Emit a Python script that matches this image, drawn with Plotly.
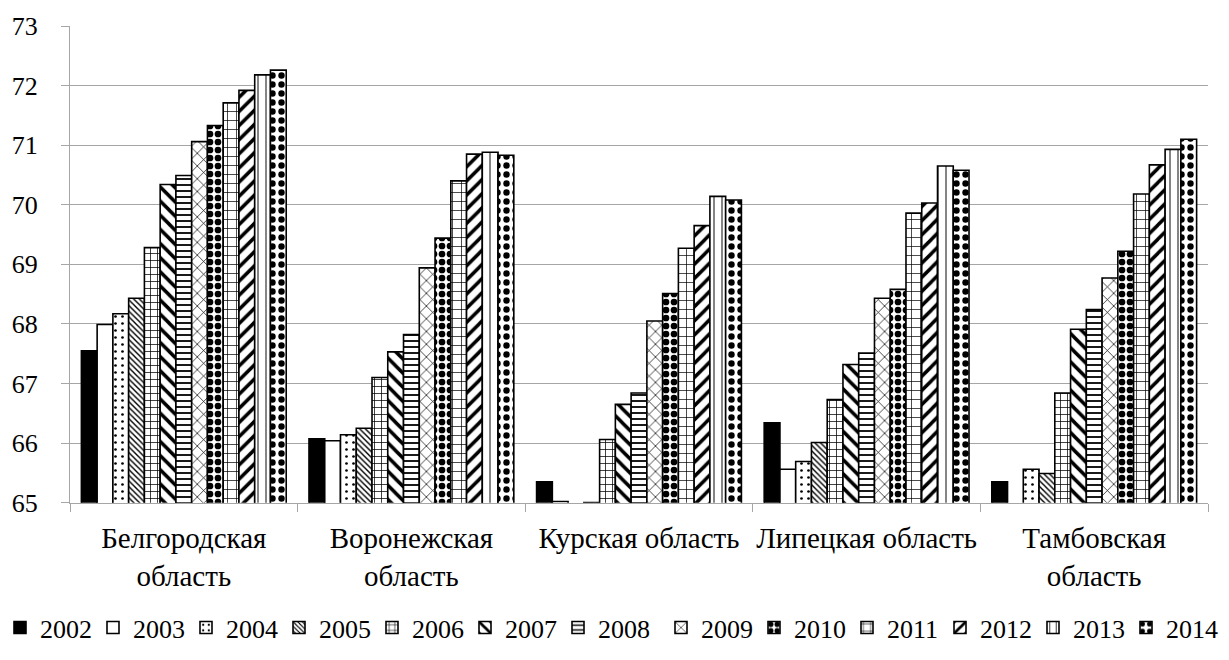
import plotly.graph_objects as go

regions = ["Белгородская<br>область", "Воронежская<br>область", "Курская область",
           "Липецкая область", "Тамбовская<br>область"]
years = ["2002", "2003", "2004", "2005", "2006", "2007", "2008", "2009", "2010",
         "2011", "2012", "2013", "2014"]

belgorod = [67.55, 67.99, 68.17, 68.43, 69.28, 70.34, 70.49, 71.06, 71.33, 71.71, 71.92, 72.18, 72.26]
voronezh = [66.07, 66.04, 66.14, 66.25, 67.10, 67.53, 67.82, 68.94, 69.44, 70.40, 70.85, 70.88, 70.83]
kursk = [65.35, 65.02, 64.98, 65.00, 66.06, 66.65, 66.84, 68.05, 68.51, 69.27, 69.65, 70.14, 70.08]
lipetsk = [66.34, 65.56, 65.69, 66.01, 66.73, 67.32, 67.51, 68.43, 68.58, 69.86, 70.03, 70.65, 70.58]
tambov = [65.35, 64.95, 65.56, 65.49, 66.84, 67.91, 68.24, 68.77, 69.22, 70.18, 70.67, 70.93, 71.10]

series_by_region = [belgorod, voronezh, kursk, lipetsk, tambov]

# pattern style per year: (marker colour, shape, size, solidity)
styles = [
    ("black", "", 8, 0.3),
    ("white", "", 8, 0.3),
    ("white", ".", 7, 0.12),
    ("white", "\\", 4, 0.35),
    ("white", "+", 7, 0.2),
    ("white", "\\", 10, 0.35),
    ("white", "-", 6, 0.3),
    ("white", "x", 9, 0.15),
    ("white", ".", 8, 0.55),
    ("white", "+", 9, 0.15),
    ("white", "/", 10, 0.35),
    ("white", "|", 8, 0.12),
    ("white", ".", 9, 0.4),
]

font_family = "Liberation Serif, Times New Roman, serif"

fig = go.Figure()
for i, yr in enumerate(years):
    color, shape, size, sol = styles[i]
    vals = [s[i] for s in series_by_region]
    pattern = dict(shape=shape, size=size, solidity=sol, fgcolor="black",
                   bgcolor=color, fillmode="replace") if shape else dict(shape="")
    fig.add_trace(go.Bar(
        name=yr, x=regions, y=vals,
        legend="legend" if i < 7 else "legend2",
        marker=dict(color=color, line=dict(color="black", width=1.6), pattern=pattern),
    ))

legend_common = dict(orientation="h", xref="container", yref="container",
                     y=0.049, xanchor="left", yanchor="middle",
                     font=dict(size=26, family=font_family, color="black"),
                     entrywidth=48, entrywidthmode="pixels",
                     itemwidth=30, tracegroupgap=0, traceorder="normal",
                     bgcolor="rgba(0,0,0,0)")

fig.update_layout(
    width=1229, height=660,
    paper_bgcolor="white", plot_bgcolor="white",
    barmode="group", bargap=0.1, bargroupgap=0,
    margin=dict(l=66, r=21, t=25, b=157),
    font=dict(family=font_family, size=26, color="black"),
    showlegend=True,
    legend=dict(x=0.0, **legend_common),
    legend2=dict(x=661 / 1229, **legend_common),
)
fig.update_yaxes(range=[65, 73], dtick=1, tick0=65,
                 showgrid=True, gridcolor="#A6A6A6", gridwidth=1,
                 showline=True, linecolor="#A6A6A6", linewidth=1,
                 ticks="outside", ticklen=8, tickcolor="#A6A6A6",
                 ticklabelstandoff=18, zeroline=False,
                 tickfont=dict(size=26, family=font_family, color="black"))
fig.update_xaxes(showline=True, linecolor="#A6A6A6", linewidth=1,
                 ticks="outside", ticklen=8, tickcolor="#A6A6A6",
                 tickson="boundaries", ticklabelstandoff=10, tickangle=0,
                 tickfont=dict(size=29, family=font_family, color="black"))

fig.write_html("out.html", config={"displayModeBar": False},
               post_script="document.body.style.margin='0';document.body.style.padding='0';")
